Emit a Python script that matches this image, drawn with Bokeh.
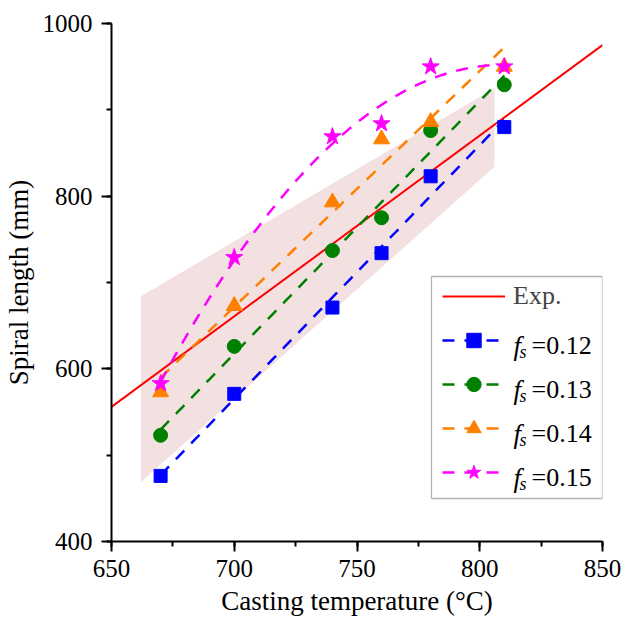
import numpy as np
from bokeh.plotting import figure
from bokeh.models import Legend, LegendItem, Label, SingleIntervalTicker, Range1d, BoxAnnotation
from bokeh.embed import file_html
from bokeh.resources import INLINE

# ---- data ----
temp = [670, 700, 740, 760, 780, 810]
len_012 = [476, 571, 671, 734, 823, 880]
len_013 = [523, 626, 737, 775, 876, 929]
len_014 = [573, 673, 793, 866, 886, 950]
len_015 = [583, 729, 869, 884, 950, 950]
fs_values = ["0.12", "0.13", "0.14", "0.15"]
fit_degree = [1, 1, 1, 2]

exp_x = [650, 850]
exp_y = [556, 975]

band_x = [662, 806]
band_low = [469, 834]
band_high = [684, 925]

x_ticks_interval = 50
y_ticks_interval = 200
x_title = "Casting temperature (°C)"
y_title = "Spiral length (mm)"

colors = ["#0000ff", "#008000", "#ff8000", "#ff00ff"]
markers = ["square", "circle", "triangle", "star"]
msizes = [13, 14, 16, 18]

FONT = "Liberation Serif"
W, H = 627, 623
BL, BR, BT, BB = 110, 25, 23, 82

p = figure(width=W, height=H, x_range=Range1d(650, 850), y_range=Range1d(400, 1000),
           output_backend="svg", toolbar_location=None,
           min_border_left=BL, min_border_right=BR, min_border_top=BT, min_border_bottom=BB)
p.outline_line_color = None
p.xgrid.visible = False
p.ygrid.visible = False
p.background_fill_color = "white"

p.xaxis.ticker = SingleIntervalTicker(interval=x_ticks_interval, num_minor_ticks=2)
p.yaxis.ticker = SingleIntervalTicker(interval=y_ticks_interval, num_minor_ticks=2)
for ax in (p.xaxis, p.yaxis):
    ax.axis_line_width = 2
    ax.axis_line_color = "black"
    ax.major_tick_line_width = 2
    ax.minor_tick_line_width = 2
    ax.major_tick_line_color = "black"
    ax.minor_tick_line_color = "black"
    ax.major_tick_out = 10
    ax.major_tick_in = 0
    ax.minor_tick_out = 5
    ax.minor_tick_in = 0
    ax.major_label_text_font = FONT
    ax.major_label_text_font_size = "25px"
    ax.major_label_text_color = "black"
    ax.axis_label_text_font = FONT
    ax.axis_label_text_font_size = "27px"
    ax.axis_label_text_font_style = "normal"
    ax.axis_label_text_color = "black"
p.xaxis.axis_label = x_title
p.yaxis.axis_label = y_title
p.xaxis.major_label_standoff = 8
p.xaxis.axis_label_standoff = 6
p.yaxis.major_label_standoff = 9
p.yaxis.axis_label_standoff = 6

# band
p.varea(x=band_x, y1=band_low, y2=band_high, fill_color="#f3e1e1", fill_alpha=1)

# experimental line
r_exp = p.line(exp_x, exp_y, line_color="#ff0000", line_width=2)

items = [LegendItem(label="Exp.", renderers=[r_exp])]
series = [len_012, len_013, len_014, len_015]
tx = np.array(temp, dtype=float)
for vals, deg, col, mk, ms in zip(series, fit_degree, colors, markers, msizes):
    coef = np.polyfit(tx, np.array(vals, dtype=float), deg)
    xs = np.linspace(tx.min(), tx.max(), 120)
    rl = p.line(xs, np.polyval(coef, xs), line_color=col, line_width=2.5, line_dash="12 10")
    rs = p.scatter(temp, vals, marker=mk, size=ms, fill_color=col, line_color=col)
    items.append(LegendItem(label=" ", renderers=[rl, rs]))

# legend frame (screen units, relative to the plot frame)
BOX_L, BOX_R, BOX_B, BOX_T = 320, 491, 43, 265
p.add_layout(BoxAnnotation(left=BOX_L, right=BOX_R, bottom=BOX_B, top=BOX_T,
                           left_units="screen", right_units="screen",
                           bottom_units="screen", top_units="screen",
                           fill_alpha=0, line_color="black", line_width=1.3))

LEG_X, LEG_Y = 331, 51
PAD, ROW_H, SPACING = 5, 36, 8
legend = Legend(items=items, location=(LEG_X, LEG_Y), glyph_width=63, glyph_height=ROW_H,
                label_height=ROW_H, spacing=SPACING, padding=PAD, label_standoff=8,
                label_width=70, label_text_font=FONT, label_text_font_size="26px",
                border_line_color=None, background_fill_alpha=0, margin=0)
p.add_layout(legend)

leg_h = 2 * PAD + 5 * ROW_H + 4 * SPACING
top = LEG_Y + leg_h
for i, fs in enumerate(fs_values, start=1):
    c = top - PAD - ROW_H / 2 - i * (ROW_H + SPACING)
    common = dict(x_units="screen", y_units="screen", text_font=FONT, text_color="black",
                  text_baseline="alphabetic", text_align="left")
    p.add_layout(Label(x=BOX_L + 82, y=c - 10, text="f", text_font_size="27px",
                       text_font_style="italic", **common))
    p.add_layout(Label(x=BOX_L + 88, y=c - 16, text="s", text_font_size="18px",
                       text_font_style="italic", **common))
    p.add_layout(Label(x=BOX_L + 100, y=c - 10, text="=" + fs, text_font_size="26px",
                       **common))

open("out.html", "w").write(file_html(p, INLINE))
